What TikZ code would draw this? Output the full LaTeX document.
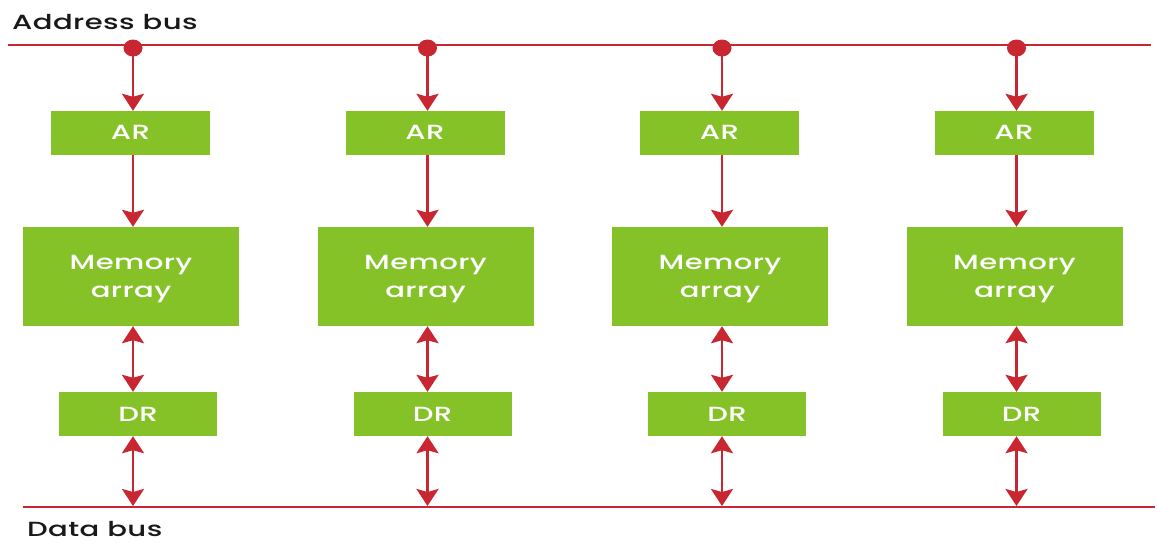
\documentclass[tikz,border=0pt]{standalone}
\usepackage{fontspec}
\setmainfont{Poppins}
\newfontfamily\boxfont[FakeStretch=1.42,LetterSpace=2]{Poppins Medium}
\usetikzlibrary{arrows.meta}
\definecolor{busred}{RGB}{200,38,48}
\definecolor{boxgreen}{RGB}{132,194,40}
\tikzset{
  box/.style={fill=boxgreen, draw=none, inner sep=0pt},
  boxtext/.style={text=white, font=\boxfont\fontsize{20.5}{28}\selectfont, align=center, inner sep=0pt},
  bus/.style={draw=busred, line width=2.6pt},
  conn/.style={draw=busred, line width=2.6pt, -{Stealth[width=22pt,length=17pt,inset=3pt]}},
  bconn/.style={draw=busred, line width=2.6pt, {Stealth[width=22pt,length=17pt,inset=3pt]}-{Stealth[width=22pt,length=17pt,inset=3pt]}},
  lbl/.style={font=\boxfont\fontsize{20.5}{24}\selectfont, text=black!90, inner sep=0pt, anchor=west}
}
\begin{document}
\begin{tikzpicture}[x=1pt,y=-1pt]
\useasboundingbox (0,0) rectangle (1157,542);
\node[lbl] (abl) at (12,22) {Address bus};
\node[lbl] (dbl) at (27,529) {Data bus};
\coordinate (abL) at (8,45);
\coordinate (abR) at (1151,45);
\coordinate (dbL) at (23,507);
\coordinate (dbR) at (1155,507);
\draw[bus] (abL) -- (abR);
\draw[bus] (dbL) -- (dbR);
\foreach \i/\xo in {1/0,2/294.5,3/589,4/883.5}{
  \coordinate (dot\i) at (133+\xo,48);
  \fill[busred] (dot\i) ellipse (9.5pt and 8.5pt);
  \node[box, minimum width=159pt, minimum height=44pt] (ar\i) at (130.5+\xo,133) {};
  \node[boxtext] (art\i) at ([yshift=1pt]ar\i.center) {AR};
  \node[box, minimum width=216pt, minimum height=99pt] (mem\i) at (131+\xo,276.5) {};
  \node[boxtext] (memt\i) at ([yshift=-3pt]mem\i.center) {Memory\\array};
  \node[box, minimum width=158pt, minimum height=44pt] (dr\i) at (138+\xo,414) {};
  \node[boxtext] (drt\i) at (dr\i.center) {DR};
  \coordinate (db\i) at (133+\xo,506);
  \draw[conn] (dot\i) -- (dot\i |- ar\i.north);
  \draw[conn] (dot\i |- ar\i.south) -- (dot\i |- mem\i.north);
  \draw[bconn] (dot\i |- mem\i.south) -- (dot\i |- dr\i.north);
  \draw[bconn] (dot\i |- dr\i.south) -- (db\i);
}
\end{tikzpicture}
\end{document}
